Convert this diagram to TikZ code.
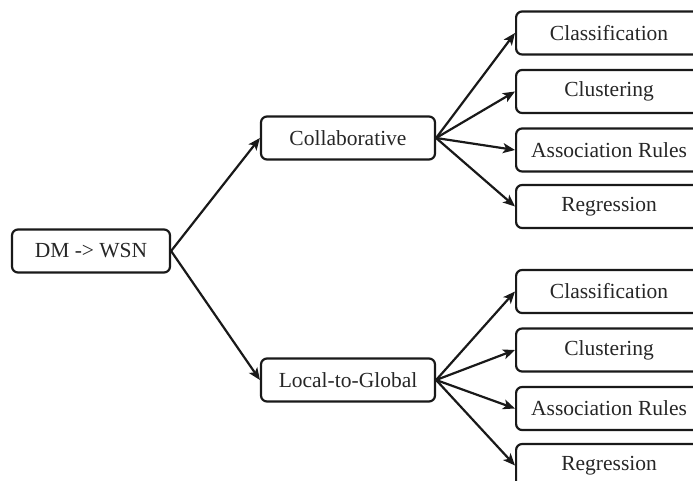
\documentclass[tikz,border=0pt]{standalone}
\usepackage{fontspec}
\setmainfont{Liberation Serif}
\usetikzlibrary{arrows.meta}
\begin{document}
\begin{tikzpicture}[x=1pt,y=-1pt,
  box/.style={draw=black!90,line width=2.2pt,rounded corners=6pt,inner sep=0pt,
    font=\fontsize{21.5}{25}\selectfont,text=black!85,minimum height=43pt},
  leaf/.style={box,minimum width=186pt,anchor=west},
  arr/.style={draw=black!90,line width=2.2pt,-{Stealth[length=12pt,width=10pt,inset=3pt]}}]
\useasboundingbox (0,0) rectangle (693,481);
\clip (0,0) rectangle (693,481);
\node[box,minimum width=158pt] (dm) at (91,251) {DM -> WSN};
\node[box,minimum width=174pt] (col) at (348,138) {Collaborative};
\node[box,minimum width=174pt] (loc) at (348,380) {Local-to-Global};
\node[leaf] (c1) at (515,33) {Classification};
\node[leaf] (c2) at (515,91.5) {Clustering};
\node[leaf] (c3) at (515,150) {Association Rules};
\node[leaf] (c4) at (515,206.5) {Regression};
\node[leaf] (l1) at (515,291.5) {Classification};
\node[leaf] (l2) at (515,350) {Clustering};
\node[leaf] (l3) at (515,408.5) {Association Rules};
\node[leaf] (l4) at (515,465.5) {Regression};
\draw[arr] (dm.east) -- (col.west);
\draw[arr] (dm.east) -- (loc.west);
\foreach \t in {c1,c2,c3,c4} \draw[arr] (col.east) -- (\t.west);
\foreach \t in {l1,l2,l3,l4} \draw[arr] (loc.east) -- (\t.west);
\end{tikzpicture}
\end{document}
